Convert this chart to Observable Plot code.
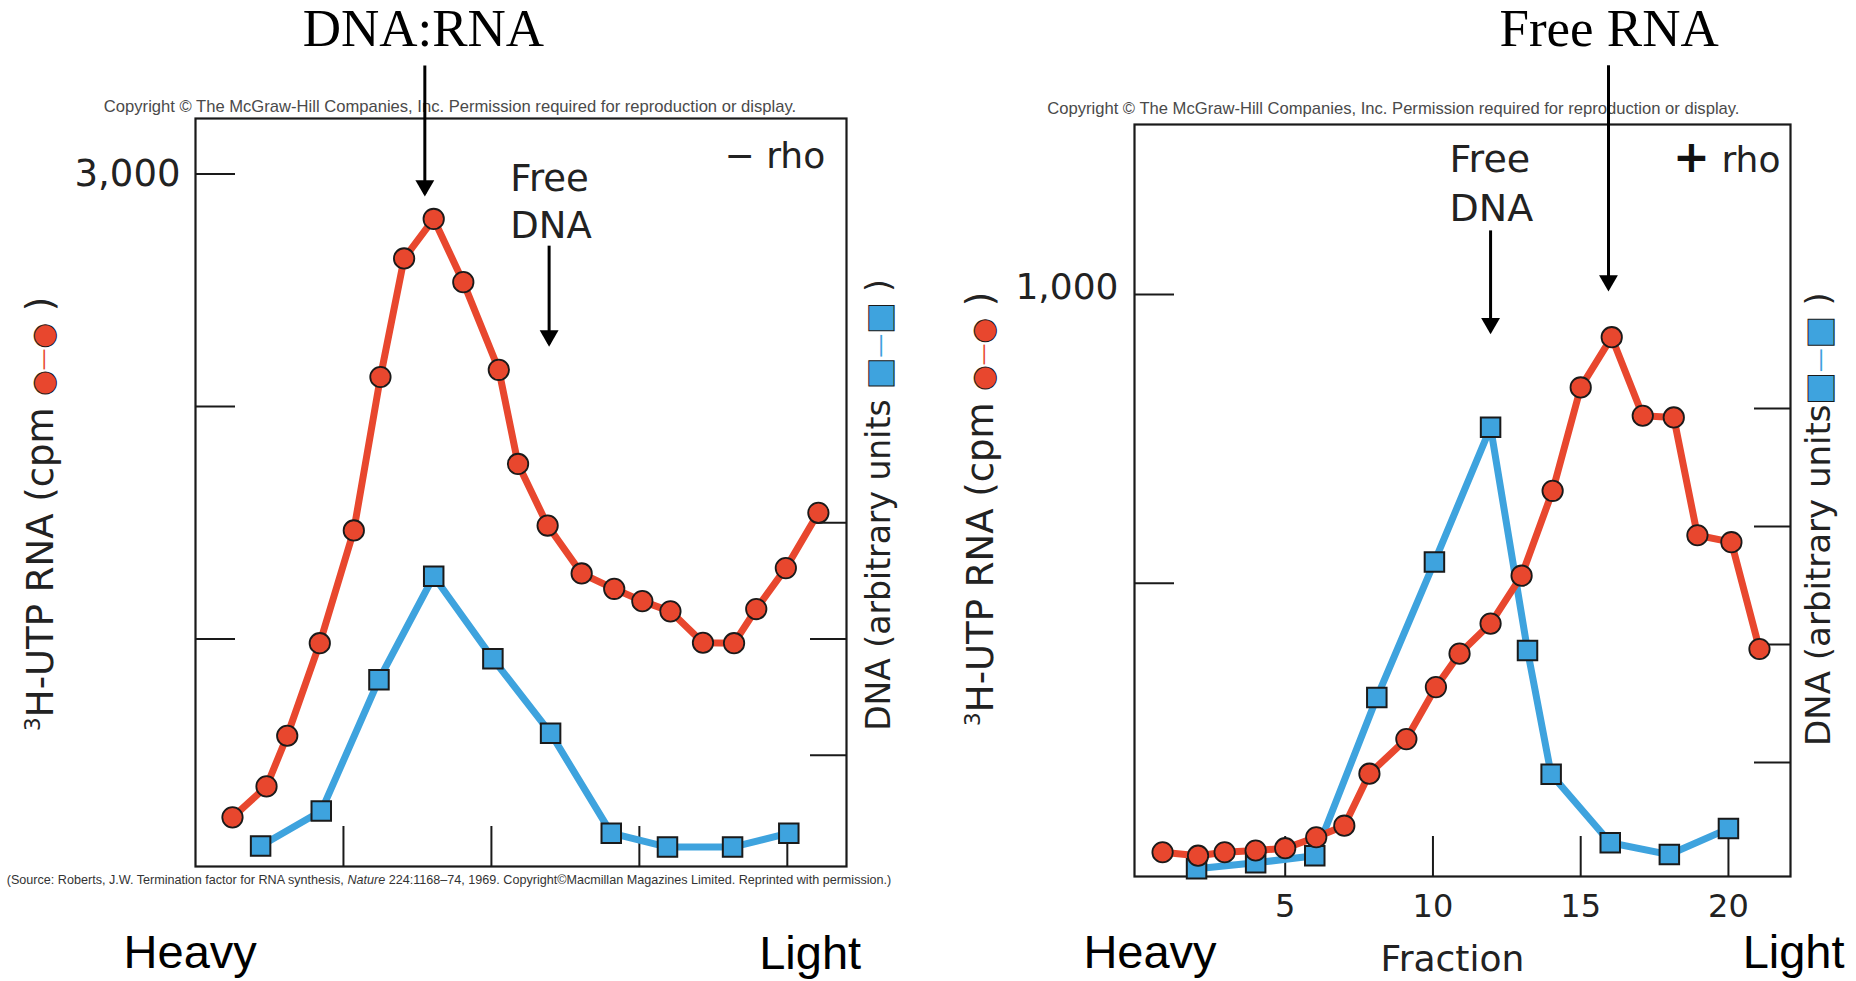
<!DOCTYPE html>
<html><head><meta charset="utf-8">
<script src="https://cdn.jsdelivr.net/npm/d3@7"></script>
<script src="https://cdn.jsdelivr.net/npm/@observablehq/plot@0.6"></script>
<style>
html,body{margin:0;padding:0;background:#fff;}
#wrap{display:flex;width:1856px;height:981px;overflow:hidden;}
#wrap svg{display:block;flex:none;}
</style>
</head><body><div id="wrap"></div>
<script>
// ---------- DATA ----------
// Panel "− rho": 3H-UTP RNA (cpm) by fraction
const fracRnaMinus = [1.25,2.4,3.1,4.2,5.35,6.25,7.05,8.05,9.05,10.25,10.9,11.9,13.05,14.15,15.1,16.05,17.15,18.2,18.95,19.95,21.05];
const cpmRnaMinus  = [233,366,584,982,1467,2127,2637,2807,2535,2158,1753,1488,1282,1216,1163,1119,984,982,1129,1305,1543];
// Panel "− rho": DNA (arbitrary units)
const fracDnaMinus = [2.2,4.25,6.2,8.05,10.05,12.0,14.05,15.95,18.15,20.05];
const dnaMinus     = [0.22,0.52,1.65,2.54,1.83,1.19,0.33,0.21,0.21,0.33];
// Panel "+ rho": 3H-UTP RNA (cpm)
const fracRnaPlus = [0.85,2.05,2.95,4.0,5.0,6.05,7.0,7.85,9.1,10.1,10.9,11.95,13.0,14.05,15.0,16.05,17.1,18.15,18.95,20.1,21.05];
const cpmRnaPlus  = [34,28,34,37,41,60,80,170,230,320,378,430,513,660,839,926,790,787,583,571,386];
// Panel "+ rho": DNA (arbitrary units)
const fracDnaPlus = [2,4,6,8.1,10.05,11.95,13.2,14,16,18,20];
const dnaPlus     = [0.10,0.15,0.21,1.55,2.70,3.84,1.95,0.90,0.32,0.22,0.44];

// Tick values
const fractionTicks = [5,10,15,20];
const cpmTicksMinus = [1000,2000,3000];
const cpmTicksPlus  = [500,1000];
const dnaTicksMinus = [1,2,3];
const dnaTicksPlus  = [1,2,3,4];
const cpmLabelMinus = [3000];
const cpmLabelPlus  = [1000];

const copyrightText = "Copyright \u00A9 The McGraw-Hill Companies, Inc. Permission required for reproduction or display.";

const RED = "#e8472e", BLUE = "#3ea3de", INK = "#1a1a1a";
const SANS = "DejaVu Sans", ARIAL = "Liberation Sans, Arial", SERIF = "Liberation Serif, Times New Roman";
const W = 928, H = 981;

function makePanel(c) {
  const iw = W - c.ml - c.mr, ih = H - c.mt - c.mb;
  const kx = (c.x[1]-c.x[0]) / iw, ky = (c.y[1]-c.y[0]) / ih;
  const rna = c.rnaFrac.map((f,i)=>({f, v:c.rnaCpm[i]}));
  const dna = c.dnaFrac.map((f,i)=>({f, v:c.toCpm(c.dnaUnits[i])}));
  const marks = [
    Plot.frame({stroke: INK, strokeWidth: 2.2}),
    Plot.ruleY(c.leftTicks, {y: d=>d, x1: c.x[0], x2: c.x[0] + 40*kx, stroke: INK, strokeWidth: 2}),
    Plot.ruleY(c.rightTicks.map(c.toCpm), {y: d=>d, x1: c.x[1] - 36*kx, x2: c.x[1], stroke: INK, strokeWidth: 2}),
    Plot.ruleX(fractionTicks, {x: d=>d, y1: c.y[0], y2: c.y[0] + 40*ky, stroke: INK, strokeWidth: 2}),
    Plot.axisY(c.yLabelTicks, {tickSize: 0, tickPadding: c.yPad, dy: c.yDy, tickFormat: d3.format(","), fontSize: c.yFont, fontFamily: SANS, color: "#222", label: null}),
    Plot.line(dna, {x:"f", y:"v", stroke: BLUE, strokeWidth: 7}),
    Plot.line(rna, {x:"f", y:"v", stroke: RED, strokeWidth: 7}),
    Plot.dot(dna, {x:"f", y:"v", symbol:"square", r: 11, fill: BLUE, stroke: INK, strokeWidth: 2}),
    Plot.dot(rna, {x:"f", y:"v", r: 10.2, fill: RED, stroke: INK, strokeWidth: 1.8}),
    // copyright line
    Plot.text([copyrightText], {x: c.copy[0], y: c.copy[1], text: d=>d, textAnchor: "middle", lineAnchor: "bottom", fontSize: 16.6, fontFamily: ARIAL, fill: "#4a4a4a"}),
    // big serif label + arrow
    Plot.text([c.big.text], {x: c.big.x, y: c.big.y, text: d=>d, textAnchor: "middle", lineAnchor: "bottom", fontSize: 53, fontFamily: SERIF, fill: "#000"}),
    Plot.link([c.big], {x1: "ax", x2: "ax", y1: "ay1", y2: "ay2", stroke: "#000", strokeWidth: 3}),
    Plot.dot([c.big], {x: "ax", y: "ay2", symbol: "triangle", rotate: 180, r: 7, fill: "#000", stroke: "none", dy: -8}),
    // Free DNA label + arrow
    Plot.text([c.free.text], {x: c.free.x, y: c.free.y, text: d=>d, textAnchor: "start", lineAnchor: "bottom", lineHeight: 1.27, fontSize: c.free.size, fontFamily: SANS, fill: "#222"}),
    Plot.link([c.free], {x1: "ax", x2: "ax", y1: "ay1", y2: "ay2", stroke: "#000", strokeWidth: 3}),
    Plot.dot([c.free], {x: "ax", y: "ay2", symbol: "triangle", rotate: 180, r: 7, fill: "#000", stroke: "none", dy: -8}),
    // Heavy / Light
    Plot.text(["Heavy"], {x: c.heavy[0], y: c.heavy[1], text: d=>d, textAnchor: "start", lineAnchor: "bottom", fontSize: 47, fontFamily: ARIAL, fill: "#000"}),
    Plot.text(["Light"], {x: c.light[0], y: c.light[1], text: d=>d, textAnchor: "start", lineAnchor: "bottom", fontSize: 47, fontFamily: ARIAL, fill: "#000"}),
    ...c.extra
  ];
  return Plot.plot({
    width: W, height: H,
    marginLeft: c.ml, marginRight: c.mr, marginTop: c.mt, marginBottom: c.mb,
    x: {domain: c.x, axis: null},
    y: {domain: c.y, axis: null},
    style: {fontFamily: SANS, background: "#fff", overflow: "visible"},
    marks
  });
}

function addRotTitle(svg, x, y, parts, size) {
  const t = d3.select(svg).append("text")
    .attr("transform", `translate(${x},${y}) rotate(-90)`)
    .attr("text-anchor", "middle")
    .attr("font-family", SANS).attr("font-size", size).attr("fill", "#222");
  for (const p of parts) {
    const s = t.append("tspan").text(p.t);
    for (const k in (p.a || {})) s.attr(k, p.a[k]);
  }
}

function rnaTitle() {
  return [
    {t: "3", a: {"font-size": 22, dy: -13}},
    {t: "H-UTP RNA (cpm ", a: {dy: 13}},
    {t: "\u25CF", a: {fill: RED, stroke: INK, "stroke-width": 1, "font-size": 29}},
    {t: "\u2014", a: {fill: RED, "font-size": 22, dy: -3}},
    {t: "\u25CF", a: {fill: RED, stroke: INK, "stroke-width": 1, "font-size": 29, dy: 3}},
    {t: " )"}
  ];
}
function dnaTitle(space) {
  return [
    {t: "DNA (arbitrary units" + space},
    {t: "\u25A0", a: {fill: BLUE, stroke: INK, "stroke-width": 1}},
    {t: "\u2014", a: {fill: BLUE, "font-size": 24, dy: -2}},
    {t: "\u25A0", a: {fill: BLUE, stroke: INK, "stroke-width": 1, dy: 2}},
    {t: " )"}
  ];
}

// ---------- Panel − rho ----------
const toCpmMinus = u => 500 * u;
const left = makePanel({
  ml: 195, mr: 82, mt: 118, mb: 115,
  x: [0, 22], y: [21.5, 3239],
  rnaFrac: fracRnaMinus, rnaCpm: cpmRnaMinus, dnaFrac: fracDnaMinus, dnaUnits: dnaMinus,
  toCpm: toCpmMinus,
  leftTicks: cpmTicksMinus, rightTicks: dnaTicksMinus,
  yLabelTicks: cpmLabelMinus, yPad: 15, yDy: 0, yFont: 37,
  copy: [8.6, 3265],
  big: {text: "DNA:RNA", x: 7.7, y: 3553, ax: 7.75, ay1: 3467, ay2: 2916},
  free: {text: "Free\nDNA", x: 10.64, y: 2727, size: 37, ax: 11.95, ay1: 2692, ay2: 2270},
  heavy: [-2.43, -417], light: [19.05, -421],
  extra: [
    Plot.text(["\u2212 rho"], {x: 21.28, y: 3028, text: d=>d, textAnchor: "end", lineAnchor: "bottom", fontSize: 36, fontFamily: SANS, fill: "#222"})
  ]
});
addRotTitle(left, 53, 514, rnaTitle(), 37);
addRotTitle(left, 890, 505, dnaTitle(" "), 33);
{
  const t = d3.select(left).append("text").attr("x", 449).attr("y", 884).attr("text-anchor", "middle")
    .attr("font-family", ARIAL).attr("font-size", 12.6).attr("fill", "#333");
  t.append("tspan").text("(Source: Roberts, J.W. Termination factor for RNA synthesis, ");
  t.append("tspan").attr("font-style", "italic").text("Nature");
  t.append("tspan").text(" 224:1168\u201374, 1969. Copyright\u00A9Macmillan Magazines Limited. Reprinted with permission.)");
}

// ---------- Panel + rho ----------
const toCpmPlus = u => 204.4 * u - 15;
const right = makePanel({
  ml: 206, mr: 66, mt: 124, mb: 105,
  x: [-0.1, 22.1], y: [-8, 1294.4],
  rnaFrac: fracRnaPlus, rnaCpm: cpmRnaPlus, dnaFrac: fracDnaPlus, dnaUnits: dnaPlus,
  toCpm: toCpmPlus,
  leftTicks: cpmTicksPlus, rightTicks: dnaTicksPlus,
  yLabelTicks: cpmLabelPlus, yPad: 16, yDy: -7, yFont: 36,
  copy: [8.66, 1313],
  big: {text: "Free RNA", x: 15.96, y: 1431, ax: 15.94, ay1: 1397, ay2: 1010},
  free: {text: "Free\nDNA", x: 10.56, y: 1128, size: 38, ax: 11.95, ay1: 1111, ay2: 936},
  heavy: [-1.83, -166], light: [20.48, -167],
  extra: [
    Plot.axisX(fractionTicks, {tickSize: 0, tickPadding: 18, fontSize: 32, fontFamily: SANS, color: "#222", label: null}),
    Plot.text(["Fraction"], {x: 10.66, y: -172, text: d=>d, textAnchor: "middle", lineAnchor: "bottom", fontSize: 36, fontFamily: SANS, fill: "#222"}),
    Plot.text(["+"], {x: 18.75, y: 1213, text: d=>d, textAnchor: "middle", lineAnchor: "bottom", fontSize: 44, fontWeight: "bold", fontFamily: SANS, fill: "#111"}),
    Plot.text(["rho"], {x: 21.76, y: 1213, text: d=>d, textAnchor: "end", lineAnchor: "bottom", fontSize: 36, fontFamily: SANS, fill: "#222"})
  ]
});
addRotTitle(right, 65, 509, rnaTitle(), 37);
addRotTitle(right, 902, 519, dnaTitle(""), 34);

document.getElementById("wrap").append(left, right);
</script>
</body></html>
